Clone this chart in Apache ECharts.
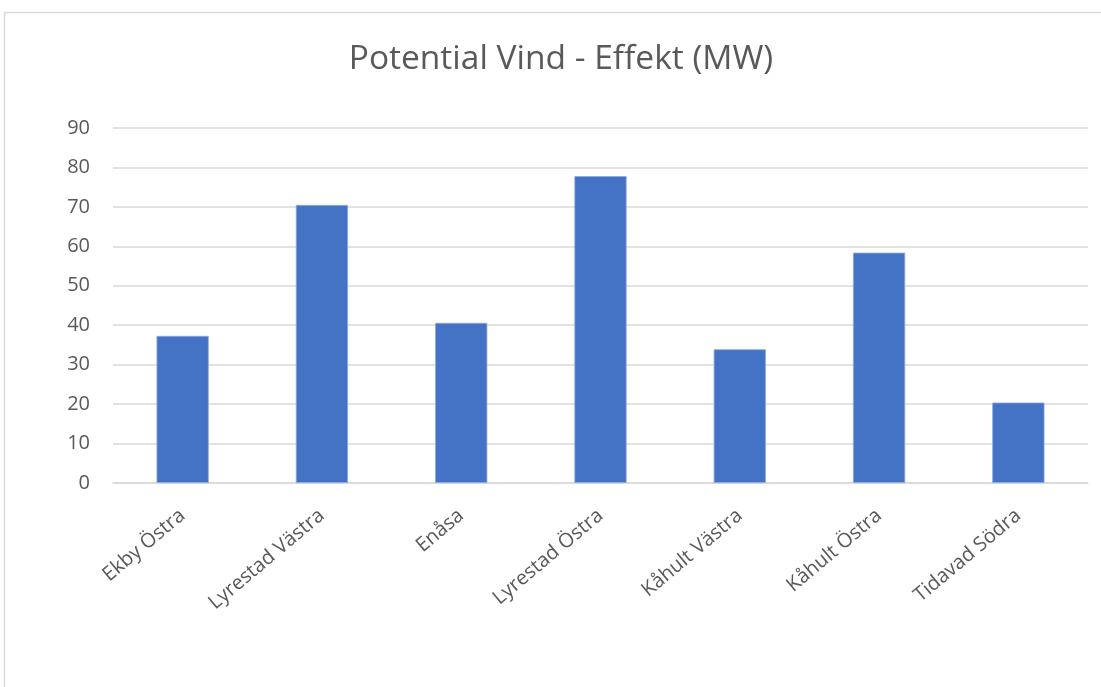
<!DOCTYPE html>
<html>
<head>
<meta charset="utf-8">
<style>
  html, body { margin: 0; padding: 0; background: #ffffff; }
  #chart { width: 1101px; height: 687px; }
</style>
<script src="https://cdn.jsdelivr.net/npm/echarts@6/dist/echarts.min.js"></script>
</head>
<body>
<div id="chart"></div>
<script>
// Sites and their potential wind power output (MW)
const categories = ['Ekby Östra', 'Lyrestad Västra', 'Enåsa', 'Lyrestad Östra', 'Kåhult Västra', 'Kåhult Östra', 'Tidavad Södra'];
const effektMW = [37.3, 70.5, 40.6, 77.8, 33.9, 58.4, 20.4];
const yTicks = { min: 0, max: 90, interval: 10 };
const titleText = 'Potential Vind - Effekt (MW)';

const textColor = '#595959';
const gridColor = '#d9d9d9';
const font = '"Open Sans", "Noto Sans", sans-serif';

const chart = echarts.init(document.getElementById('chart'), null, { renderer: 'canvas' });

chart.setOption({
  animation: false,
  backgroundColor: '#ffffff',
  graphic: [{
    // outer chart-area frame
    type: 'rect',
    silent: true,
    z: -10,
    shape: { x: 4.5, y: 12.5, width: 1200, height: 800 },
    style: { fill: 'none', stroke: gridColor, lineWidth: 1.5 }
  }, {
    // chart title, centred on the chart area
    type: 'text',
    silent: true,
    x: 561,
    y: 42,
    style: {
      text: titleText,
      align: 'center',
      verticalAlign: 'top',
      fontFamily: font,
      fontSize: 33.5,
      fill: textColor
    }
  }],
  grid: { left: 113, right: 13, top: 128, bottom: 204, containLabel: false },
  xAxis: {
    type: 'category',
    data: categories,
    axisTick: { show: false },
    axisLine: { show: true, lineStyle: { color: gridColor, width: 1.5 } },
    axisLabel: {
      rotate: 40,
      margin: 30,
      interval: 0,
      fontFamily: font,
      fontSize: 20,
      color: textColor
    }
  },
  yAxis: {
    type: 'value',
    min: yTicks.min,
    max: yTicks.max,
    interval: yTicks.interval,
    axisLine: { show: false },
    axisTick: { show: false },
    splitLine: { lineStyle: { color: gridColor, width: 1.5 } },
    axisLabel: { margin: 23, fontFamily: font, fontSize: 20, color: textColor }
  },
  series: [{
    type: 'bar',
    data: effektMW,
    barWidth: '37.5%',
    itemStyle: { color: '#4472c4', borderColor: '#8faadc', borderWidth: 0.8 }
  }]
});
</script>
</body>
</html>
